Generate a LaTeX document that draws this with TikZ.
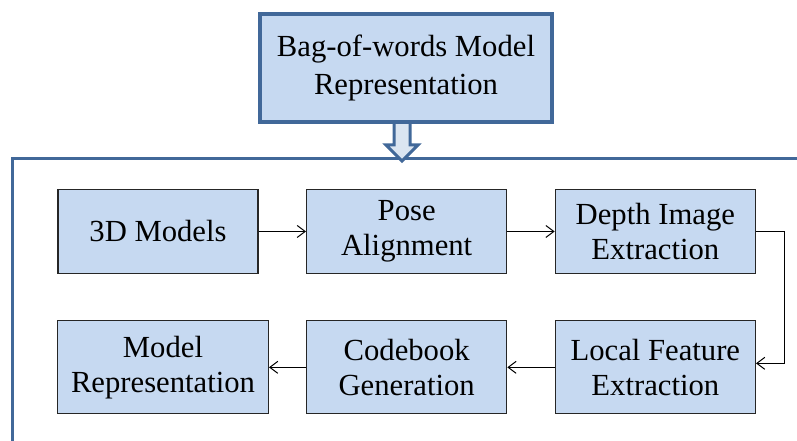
\documentclass[tikz,border=0pt]{standalone}
\usepackage{fontspec}
\setmainfont{Liberation Serif}
\usetikzlibrary{positioning}
\usetikzlibrary{arrows.meta}
\usepackage{xcolor}

\definecolor{boxfill}{RGB}{198,217,241}
\definecolor{frameblue}{RGB}{65,104,153}
\definecolor{arrowfill}{RGB}{219,229,241}

\begin{document}
\begin{tikzpicture}[x=0.75pt, y=-0.75pt, node distance=34.5pt and 35.5pt,
  stepbox/.style={rectangle, draw=black!85, line width=1pt, fill=boxfill, align=center,
    minimum width=150pt, minimum height=63pt, inner sep=2pt, font=\fontsize{23}{26.5}\selectfont},
  titlebox/.style={rectangle, draw=frameblue, line width=3pt, fill=boxfill, align=center,
    minimum width=219pt, minimum height=81pt, font=\fontsize{23}{28.5}\selectfont},
  link/.style={draw=black, line width=0.75pt, -{Straight Barb[length=6pt, width=9pt]}}]

\useasboundingbox (0,0) rectangle (797,441);

% Frame
\draw[frameblue, line width=2.25pt] (797,159) -- (12,159) -- (12,441);

% Block arrow
\draw[frameblue, line width=2.25pt, fill=arrowfill]
  (394,124) -- (394,145) -- (386,145) -- (402,161) -- (418,145) -- (410,145) -- (410,124);

% Nodes
\node[titlebox] (bow) at (406,68) {Bag-of-words Model\\Representation};
\node[stepbox] (models) at (158,231.5) {3D Models};
\node[stepbox, right=of models] (pose) {Pose\\Alignment};
\node[stepbox, right=of pose] (depth) {Depth Image\\Extraction};
\node[stepbox, minimum height=69.75pt, below=of depth] (local) {Local Feature\\Extraction};
\node[stepbox, minimum height=69.75pt, left=of local] (codebook) {Codebook\\Generation};
\node[stepbox, minimum height=69.75pt, minimum width=158pt, left=27.75pt of codebook] (modelrep) {Model\\Representation};

% Arrows
\draw[link] (models) -- (pose);
\draw[link] (pose) -- (depth);
\draw[link] (depth.east) -- ++(28,0) |- ([yshift=3pt]local.east);
\draw[link] (local) -- (codebook);
\draw[link] (codebook) -- (modelrep);

\end{tikzpicture}
\end{document}
